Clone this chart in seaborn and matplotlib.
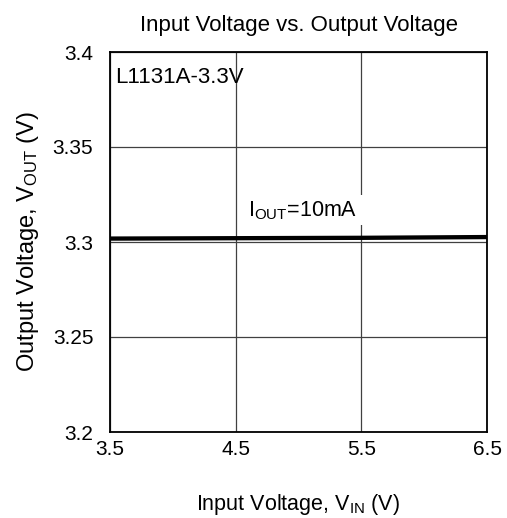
import matplotlib
matplotlib.use("Agg")
import matplotlib.pyplot as plt
from matplotlib.patches import Rectangle
import seaborn as sns
import pandas as pd

vin = [3.5, 4.0, 4.5, 5.0, 5.5, 6.0, 6.5]
vout = [3.3018, 3.3019, 3.3020, 3.3021, 3.3022, 3.3024, 3.3026]
x_ticks = [3.5, 4.5, 5.5, 6.5]
x_tick_labels = ["3.5", "4.5", "5.5", "6.5"]
y_ticks = [3.2, 3.25, 3.3, 3.35, 3.4]
y_tick_labels = ["3.2", "3.25", "3.3", "3.35", "3.4"]

sns.set_style("white")
plt.rcParams['font.family'] = ['Liberation Sans', 'DejaVu Sans']
plt.rcParams['mathtext.fontset'] = 'custom'
plt.rcParams['mathtext.rm'] = 'Liberation Sans'
plt.rcParams['mathtext.it'] = 'Liberation Sans'
plt.rcParams['text.color'] = 'black'
plt.rcParams['axes.labelcolor'] = 'black'
plt.rcParams['xtick.color'] = 'black'
plt.rcParams['ytick.color'] = 'black'

df = pd.DataFrame({"vin": vin, "vout": vout})

fig = plt.figure(figsize=(5.07, 5.18), dpi=100)
ax = fig.add_axes([110/507, 86/518, 377/507, 380/518])

sns.lineplot(data=df, x="vin", y="vout", ax=ax, color="black", linewidth=3.1, zorder=3)

ax.set_xlim(3.5, 6.5)
ax.set_ylim(3.2, 3.4)
ax.set_xticks(x_ticks)
ax.set_xticklabels(x_tick_labels, fontsize=15)
ax.set_yticks(y_ticks)
ax.set_yticklabels(y_tick_labels, fontsize=15)
ax.tick_params(axis="x", length=0, pad=6)
ax.tick_params(axis="y", length=0, pad=12)
ax.grid(True, color="#404040", linewidth=0.9)
for s in ax.spines.values():
    s.set_color("black")
    s.set_linewidth(1.3)

ax.set_title("Input Voltage vs. Output Voltage", fontsize=16, pad=15)
ax.set_xlabel("Input Voltage, V$_{\\mathrm{IN}}$ (V)", fontsize=15.5)
ax.xaxis.set_label_coords(0.5, -0.192)
ax.xaxis.label.set_va("center")
ax.set_ylabel("Output Voltage, V$_{\\mathrm{OUT}}$ (V)", fontsize=17)
ax.yaxis.set_label_coords(-0.218, 0.5)
ax.yaxis.label.set_va("center")

ax.text(0.013, 0.919, "L1131A-3.3V", transform=ax.transAxes, fontsize=16,
        ha="left", va="baseline", zorder=4)
ax.add_patch(Rectangle((4.545, 3.3089), 0.99, 0.0158, facecolor="white",
                       edgecolor="none", zorder=2.5))
ax.text(4.598, 3.3133, "I$_{\\mathrm{OUT}}$=10mA", fontsize=15.5, ha="left",
        va="baseline", zorder=4)

fig.savefig("out.png", dpi=100)
